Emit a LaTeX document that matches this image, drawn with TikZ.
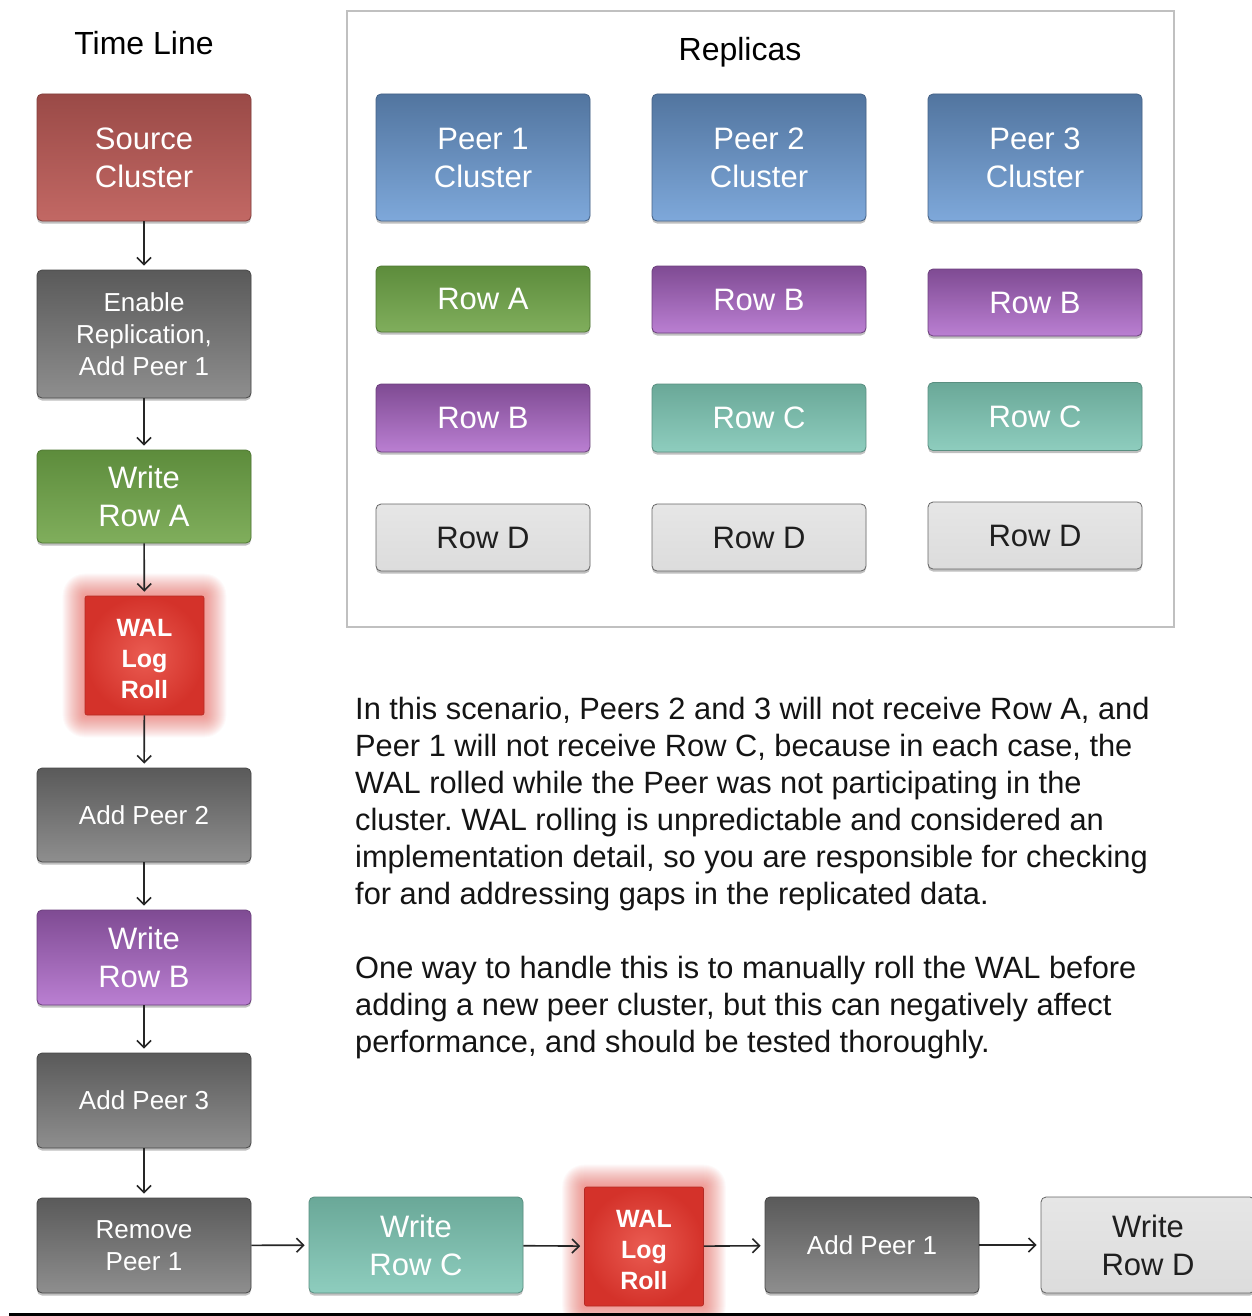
\documentclass[tikz,border=0pt]{standalone}
\usepackage{fontspec}
\setmainfont{Liberation Sans}
\usetikzlibrary{arrows.meta,shadows,backgrounds}
\pgfdeclarelayer{paper}
\pgfsetlayers{paper,background,main}
\frenchspacing
\definecolor{srcT}{RGB}{154,74,71}
\definecolor{srcB}{RGB}{194,104,100}
\definecolor{gryT}{RGB}{90,90,90}
\definecolor{gryB}{RGB}{142,142,142}
\definecolor{grnT}{RGB}{93,140,60}
\definecolor{grnB}{RGB}{128,174,92}
\definecolor{bluT}{RGB}{82,117,159}
\definecolor{bluB}{RGB}{126,168,218}
\definecolor{purT}{RGB}{127,75,147}
\definecolor{purB}{RGB}{186,127,210}
\definecolor{tealT}{RGB}{106,168,152}
\definecolor{tealB}{RGB}{142,205,190}
\definecolor{ltT}{RGB}{230,230,230}
\definecolor{ltB}{RGB}{220,220,220}
\definecolor{walC}{RGB}{234,92,82}
\definecolor{walO}{RGB}{212,50,42}
\definecolor{glowC}{RGB}{240,80,70}
\definecolor{frameC}{RGB}{192,192,192}
\begin{document}
\begin{tikzpicture}[x=1pt,y=-1pt,
  base/.style={rectangle, rounded corners=5pt, minimum width=214pt, align=center,
    text=white, line width=0.8pt, inner sep=2pt,
    drop shadow={shadow xshift=0pt, shadow yshift=-2.5pt, opacity=0.25, fill=black}},
  big/.style={font=\fontsize{31}{38}\selectfont},
  small/.style={font=\fontsize{26}{32}\selectfont},
  redb/.style={base, top color=srcT, bottom color=srcB, draw=srcT!85!black},
  gryb/.style={base, top color=gryT, bottom color=gryB, draw=gryT!80!black},
  grnb/.style={base, top color=grnT, bottom color=grnB, draw=grnT!85!black},
  blub/.style={base, top color=bluT, bottom color=bluB, draw=bluT!85!black},
  purb/.style={base, top color=purT, bottom color=purB, draw=purT!85!black},
  tealb/.style={base, top color=tealT, bottom color=tealB, draw=tealT!85!black},
  ltb/.style={base, top color=ltT, bottom color=ltB, draw=black!60, text=black!88},
  walb/.style={rectangle, rounded corners=2pt, minimum width=119pt, minimum height=119pt, align=center,
    inner color=walC, outer color=walO, draw=walO!85!black, line width=0.6pt,
    text=white, font=\bfseries\fontsize{25}{31}\selectfont},
  arr/.style={line width=1.6pt, black!85, shorten >=4pt,
    -{Straight Barb[length=7pt,width=14pt,line width=1.6pt]}},
  title/.style={font=\fontsize{32}{38}\selectfont, text=black}
]
\useasboundingbox (0,0) rectangle (1251,1316);
\begin{pgfonlayer}{paper}
\fill[white] (0,0) rectangle (1251,1316);
\end{pgfonlayer}

% Replicas frame
\draw[frameC, line width=1.5pt] (347,11) rectangle (1174,627);
\node[title] (reptitle) at (740,52) {Replicas};
\node[title] (tltitle) at (144,43) {Time Line};

% time line column
\node[redb, big, minimum height=127pt] (src) at (144,157.5) {Source\\Cluster};
\node[gryb, small, minimum height=128pt] (enable) at (144,334) {Enable\\Replication,\\Add Peer 1};
\node[grnb, big, minimum height=93pt] (wra) at (144,496.5) {Write\\Row A};
\node[walb] (wal1) at (144.5,655.5) {\rule{0pt}{24pt}WAL\\Log\\Roll};
\node[gryb, small, minimum height=94pt] (ap2) at (144,815) {Add Peer 2};
\node[purb, big, minimum height=95pt] (wrb) at (144,957.5) {Write\\Row B};
\node[gryb, small, minimum height=95pt] (ap3) at (144,1100.5) {Add Peer 3};
\node[gryb, small, minimum height=95pt] (rm1) at (144,1245.5) {Remove\\Peer 1};

% bottom row
\node[tealb, big, minimum height=96pt] (wrc) at (416,1245) {Write\\Row C};
\node[walb] (wal2) at (644,1246.5) {\rule{0pt}{24pt}WAL\\Log\\Roll};
\node[gryb, small, minimum height=96pt] (ap1) at (872,1245) {Add Peer 1};
\node[ltb, big, minimum height=96pt] (wrd) at (1148,1245) {Write\\Row D};

% glow
\begin{pgfonlayer}{background}
\foreach \n in {wal1,wal2}{
  \foreach \i in {1,...,22}{
    \fill[glowC, opacity=0.032, rounded corners=\i pt]
      ([xshift=-\i pt,yshift=\i pt]\n.north west) rectangle ([xshift=\i pt,yshift=-\i pt]\n.south east);
  }
}
\end{pgfonlayer}

% replicas
\node[blub, big, minimum height=127pt] (p1) at (483,157.5) {Peer 1\\Cluster};
\node[blub, big, minimum height=127pt] (p2) at (759,157.5) {Peer 2\\Cluster};
\node[blub, big, minimum height=127pt] (p3) at (1035,157.5) {Peer 3\\Cluster};

\node[grnb, big, minimum height=66pt] (r1a) at (483,299) {Row A};
\node[purb, big, minimum height=67pt] (r2b) at (759,299.5) {Row B};
\node[purb, big, minimum height=67pt] (r3b) at (1035,302.5) {Row B};

\node[purb, big, minimum height=68pt] (r1b) at (483,418) {Row B};
\node[tealb, big, minimum height=68pt] (r2c) at (759,418) {Row C};
\node[tealb, big, minimum height=68pt] (r3c) at (1035,416.5) {Row C};

\node[ltb, big, minimum height=67pt] (r1d) at (483,537.5) {Row D};
\node[ltb, big, minimum height=67pt] (r2d) at (759,537.5) {Row D};
\node[ltb, big, minimum height=67pt] (r3d) at (1035,535.5) {Row D};

% arrows
\draw[arr] (src) -- (enable);
\draw[arr] (enable) -- (wra);
\draw[arr] (wra) -- (wal1);
\draw[arr] (wal1) -- (ap2);
\draw[arr] (ap2) -- (wrb);
\draw[arr] (wrb) -- (ap3);
\draw[arr] (ap3) -- (rm1);
\draw[arr] (rm1) -- (wrc);
\draw[arr] (wrc) -- (wal2);
\draw[arr] (wal2) -- (ap1);
\draw[arr] (ap1) -- (wrd);

% text
\node[anchor=north west, inner sep=0pt, align=left, text=black!92,
  font=\fontsize{30.8}{37}\selectfont] (para1) at (355,697)
  {In this scenario, Peers 2 and 3 will not receive Row A, and\\
   Peer 1 will not receive Row C, because in each case, the\\
   WAL rolled while the Peer was not participating in the\\
   cluster. WAL rolling is unpredictable and considered an\\
   implementation detail, so you are responsible for checking\\
   for and addressing gaps in the replicated data.};
\node[anchor=north west, inner sep=0pt, align=left, text=black!92,
  font=\fontsize{30.8}{37}\selectfont] (para2) at (355,956)
  {One way to handle this is to manually roll the WAL before\\
   adding a new peer cluster, but this can negatively affect\\
   performance, and should be tested thoroughly.};

% bottom rule
\fill[black] (9,1312.5) rectangle (1251,1316);
\end{tikzpicture}
\end{document}
